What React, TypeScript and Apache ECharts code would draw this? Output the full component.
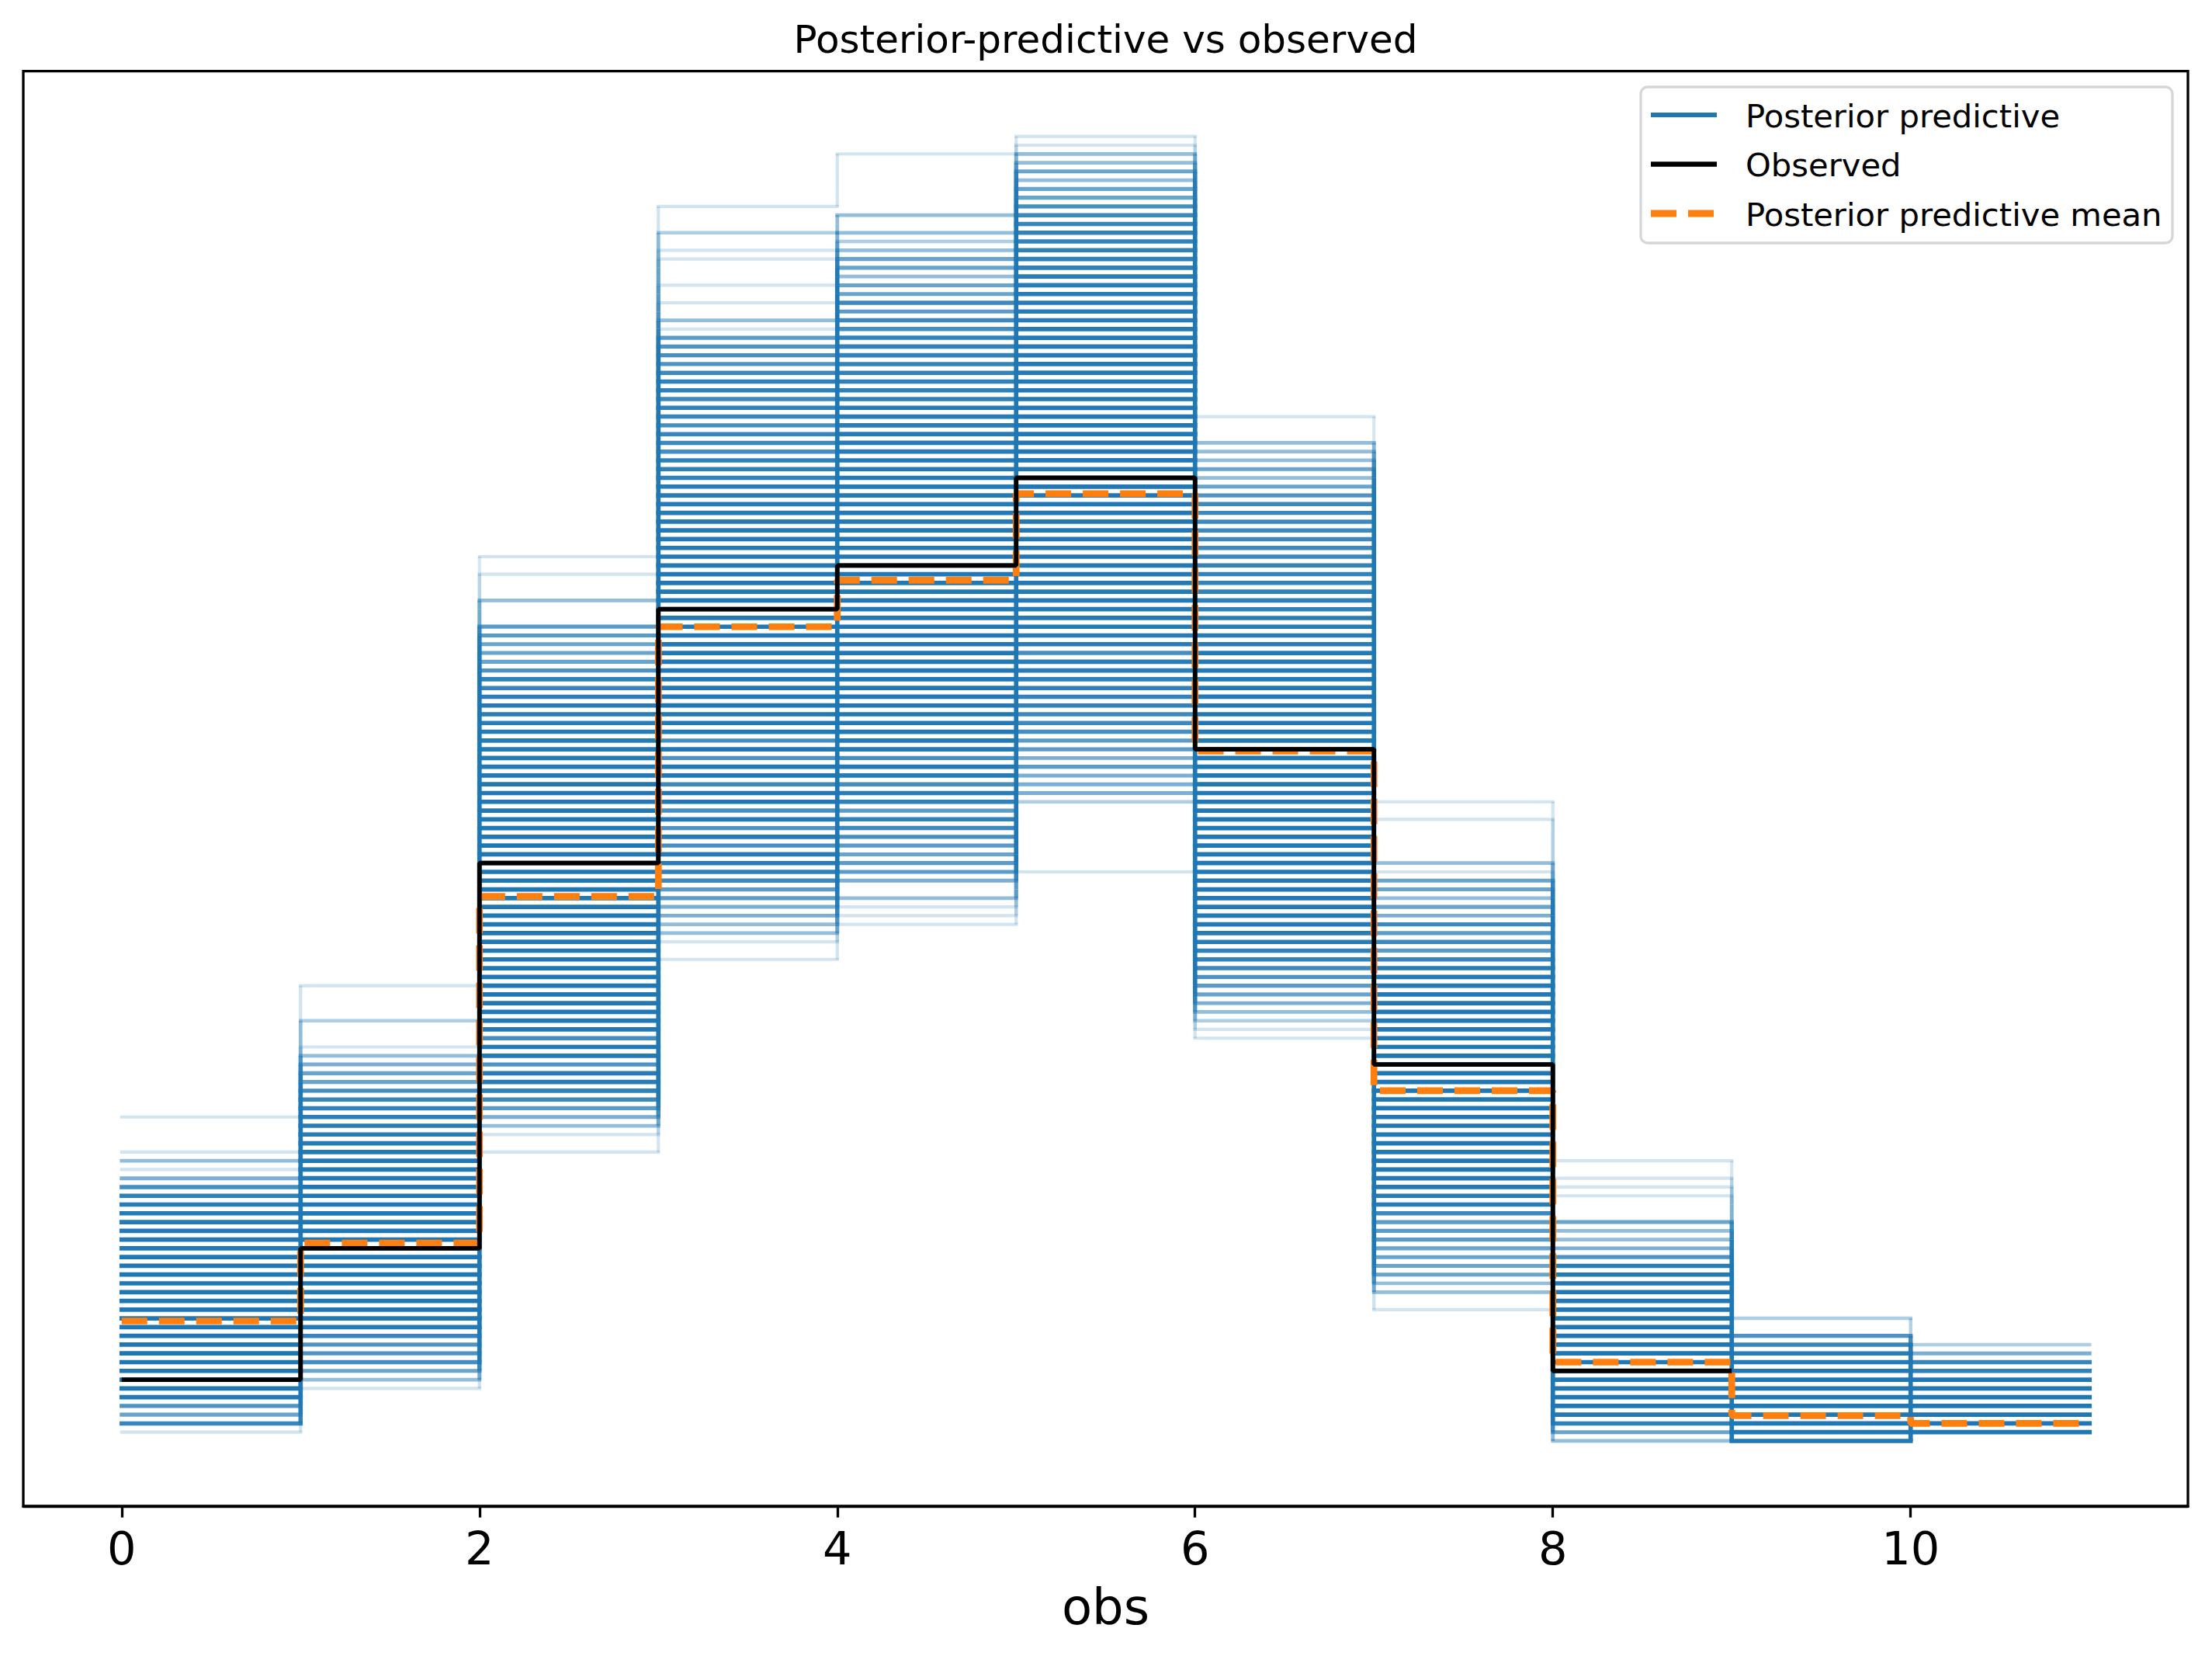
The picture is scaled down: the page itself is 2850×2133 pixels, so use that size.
import React, { useEffect, useRef } from "react";
import * as echarts from "echarts";

// ---------------- data (counts per value bin, N = 530 observations) ----------------
const binValues = [0, 1, 2, 3, 4, 5, 6, 7, 8, 9, 10];
const observedCounts = [7, 22, 66, 95, 100, 110, 79, 43, 8];
const ppMeanCounts = [13.7, 22.6, 62.2, 93.0, 98.3, 108.2, 78.8, 40.0, 9.0, 2.9, 2.0];
const xTickValues = [0, 2, 4, 6, 8, 10];

// lowest count level seen among posterior-predictive draws in each bin
const binLowestLevel = [1, 6, 33, 55, 59, 65, 46, 15, 0, 0, 1];

// number of posterior-predictive draws landing on each count level (from lowest level upward)
const ppBin0 = [1, 10, 5, 7, 20, 30, 40, 50, 55, 58, 60, 60, 58, 55, 52, 48, 44, 40, 36, 32, 28, 25, 22, 20, 18, 16, 14, 12, 8, 4, 1, 3, 1, 0, 0, 0, 1];
const ppBin1 = [1, 3, 5, 8, 7, 7, 10, 16, 22, 28, 34, 40, 44, 48, 50, 50, 50, 48, 46, 44, 40, 36, 33, 30, 27, 24, 21, 18, 15, 14, 14, 13, 11, 10, 8, 5, 5, 4, 3, 1, 0, 0, 2, 0, 0, 0, 1];
const ppBin2 = [1, 0, 1, 3, 4, 6, 9, 12, 15, 15, 7, 18, 20, 8, 24, 24, 27, 27, 30, 30, 30, 33, 33, 33, 33, 33, 33, 33, 33, 33, 33, 32, 32, 30, 30, 28, 27, 27, 25, 24, 22, 21, 21, 19, 18, 18, 16, 15, 15, 14, 14, 15, 13, 10, 12, 7, 5, 5, 5, 6, 6, 0, 0, 3, 0, 0, 1, 0, 1];
const ppBin3 = [1, 0, 1, 3, 3, 4, 4, 6, 6, 9, 12, 14, 15, 8, 16, 7, 18, 8, 21, 21, 9, 22, 24, 7, 24, 8, 25, 25, 25, 25, 25, 25, 25, 25, 25, 24, 24, 24, 24, 23, 23, 23, 22, 21, 21, 20, 20, 18, 18, 17, 17, 15, 15, 14, 14, 12, 12, 12, 8, 9, 10, 8, 10, 11, 9, 12, 12, 9, 7, 8, 7, 6, 1, 3, 0, 1, 0, 1, 0, 0, 1, 1, 0, 2, 0, 0, 1];
const ppBin4 = [1, 1, 1, 3, 0, 4, 6, 6, 5, 6, 8, 9, 11, 6, 12, 14, 8, 15, 17, 8, 18, 18, 20, 20, 21, 21, 21, 22, 22, 22, 22, 22, 22, 22, 22, 22, 22, 22, 22, 22, 22, 21, 21, 21, 21, 20, 20, 20, 18, 18, 18, 17, 17, 17, 15, 15, 15, 14, 14, 14, 12, 12, 12, 11, 11, 11, 11, 11, 8, 9, 6, 9, 5, 5, 3, 5, 5, 3, 2, 3, 0, 3, 0, 0, 0, 0, 0, 0, 1];
const ppBin5 = [1, 0, 0, 0, 0, 0, 0, 0, 2, 4, 4, 4, 6, 4, 6, 6, 8, 9, 9, 11, 11, 12, 12, 14, 14, 8, 15, 15, 17, 17, 18, 18, 18, 20, 20, 20, 21, 21, 21, 21, 22, 22, 22, 22, 22, 22, 22, 22, 22, 22, 21, 21, 21, 21, 20, 20, 20, 18, 18, 18, 17, 17, 17, 15, 15, 15, 14, 14, 14, 12, 12, 12, 11, 11, 10, 9, 8, 5, 5, 3, 5, 3, 3, 1, 1];
const ppBin6 = [1, 1, 2, 3, 4, 5, 6, 7, 9, 11, 12, 14, 15, 17, 18, 20, 21, 22, 22, 24, 24, 25, 25, 25, 25, 25, 25, 25, 25, 25, 25, 25, 24, 24, 24, 22, 22, 21, 21, 20, 20, 18, 18, 17, 17, 15, 15, 14, 14, 12, 12, 12, 11, 11, 11, 9, 9, 9, 9, 9, 9, 9, 7, 5, 3, 5, 3, 3, 3, 0, 0, 1];
const ppBin7 = [1, 0, 3, 3, 5, 5, 5, 5, 6, 6, 6, 9, 14, 15, 18, 20, 21, 23, 24, 26, 27, 28, 28, 30, 30, 30, 30, 30, 30, 28, 28, 27, 26, 24, 23, 21, 20, 18, 17, 15, 10, 6, 9, 6, 9, 4, 5, 3, 5, 5, 1, 3, 0, 0, 0, 0, 1, 0, 1];
const ppBin8 = [3, 5, 12, 20, 32, 44, 52, 58, 60, 60, 58, 52, 46, 40, 35, 30, 26, 23, 20, 17, 14, 7, 4, 3, 3, 5, 0, 0, 1, 1, 1, 0, 1];
const ppBin9 = [40, 80, 100, 100, 90, 70, 52, 36, 24, 16, 14, 10, 7, 0, 2];
const ppBin10 = [90, 110, 105, 90, 65, 45, 28, 12, 10, 4, 2];
const ppLevelWeights = [ppBin0, ppBin1, ppBin2, ppBin3, ppBin4, ppBin5, ppBin6, ppBin7, ppBin8, ppBin9, ppBin10];

// ---------------- styling ----------------
const BLUE = "#1f77b4";
const ORANGE = "#ff7f0e";
const FONT = "DejaVu Sans";
const SINGLE_ALPHA = 0.2;
const BASE_LW = 4.2;
const STACK_LW = 1.5; // extra apparent width once many anti-aliased draws overlap

const alphaFor = (n: number) => 1 - Math.pow(1 - SINGLE_ALPHA, n);

// horizontal pieces of the posterior-predictive step lines
const horizontalSegs: number[][] = [];
ppLevelWeights.forEach((w, k) => {
  w.forEach((n, i) => {
    if (n > 0) {
      const lvl = binLowestLevel[k] + i;
      horizontalSegs.push([binValues[k], lvl, binValues[k] + 1, lvl, alphaFor(n)]);
    }
  });
});

// vertical pieces at bin edges (draws coupled by rank between neighbouring bins)
const weightSums = ppLevelWeights.map((w) => w.reduce((a, b) => a + b, 0));
const cdfAt = (k: number, y: number) => {
  const w = ppLevelWeights[k];
  const lo = binLowestLevel[k];
  let s = 0;
  w.forEach((n, i) => {
    if (lo + i <= y) s += n;
  });
  return s / weightSums[k];
};
const verticalSegs: number[][] = [];
for (let k = 1; k < ppLevelWeights.length; k++) {
  const loA = binLowestLevel[k - 1];
  const hiA = loA + ppLevelWeights[k - 1].length - 1;
  const loB = binLowestLevel[k];
  const hiB = loB + ppLevelWeights[k].length - 1;
  const lo = Math.min(loA, loB);
  const hi = Math.max(hiA, hiB);
  const S = (weightSums[k - 1] + weightSums[k]) / 2;
  for (let y = lo; y < hi; y++) {
    const n = S * Math.abs(cdfAt(k - 1, y) - cdfAt(k, y));
    if (n > 0.05) verticalSegs.push([binValues[k], y, binValues[k], y + 1, alphaFor(Math.min(n, 60))]);
  }
}

const stepPoints = (vals: number[]) =>
  vals.map((v, i) => [binValues[i], v]).concat([[binValues[vals.length - 1] + 1, vals[vals.length - 1]]]);

const segRenderer = (cap: string) => (params: any, api: any) => {
  const p1 = api.coord([api.value(0), api.value(1)]);
  const p2 = api.coord([api.value(2), api.value(3)]);
  const a = api.value(4);
  return {
    type: "line",
    shape: { x1: p1[0], y1: p1[1], x2: p2[0], y2: p2[1] },
    style: {
      stroke: BLUE,
      lineWidth: BASE_LW + (STACK_LW * Math.max(0, a - SINGLE_ALPHA)) / (1 - SINGLE_ALPHA),
      opacity: a,
      lineCap: cap,
    },
  };
};

// ---------------- layout (px) ----------------
const W = 2850;
const H = 2133;
const GRID = { left: 30, right: 31, top: 91.7, bottom: 193 };
const LEG = { x: 2114, y: 112, w: 685, h: 201 };
const legendRows = [
  { label: "Posterior predictive", color: BLUE, width: 6, dash: null as number[] | null, y: 148 },
  { label: "Observed", color: "#000000", width: 6.5, dash: null as number[] | null, y: 211.5 },
  { label: "Posterior predictive mean", color: ORANGE, width: 9, dash: [33, 15], y: 275 },
];

export default function App() {
  const ref = useRef<HTMLDivElement>(null);
  useEffect(() => {
    document.body.style.margin = "0";
    const chart = echarts.init(ref.current as HTMLDivElement, null, { renderer: "svg" });
    const legendGraphics: any[] = [
      {
        type: "rect",
        shape: { x: LEG.x, y: LEG.y, width: LEG.w, height: LEG.h, r: 9 },
        style: { fill: "rgba(255,255,255,0.8)", stroke: "#d6d6d6", lineWidth: 3.3 },
        z: 100,
      },
    ];
    legendRows.forEach((r) => {
      legendGraphics.push({
        type: "line",
        shape: { x1: 2127, y1: r.y, x2: 2212, y2: r.y },
        style: { stroke: r.color, lineWidth: r.width, lineDash: r.dash || undefined, lineCap: "butt" },
        z: 101,
      });
      legendGraphics.push({
        type: "text",
        x: 2249,
        y: r.y + 1,
        style: {
          text: r.label,
          fill: "#000",
          font: `41.7px "${FONT}"`,
          textAlign: "left",
          textVerticalAlign: "middle",
          verticalAlign: "middle",
        },
        z: 101,
      });
    });

    chart.setOption({
      animation: false,
      backgroundColor: "#ffffff",
      textStyle: { fontFamily: FONT },
      grid: {
        left: GRID.left,
        right: GRID.right,
        top: GRID.top,
        bottom: GRID.bottom,
        show: true,
        borderColor: "#000",
        borderWidth: 3.3,
        backgroundColor: "transparent",
      },
      xAxis: {
        type: "value",
        min: -0.55,
        max: 11.55,
        name: "obs",
        nameLocation: "middle",
        nameGap: 98,
        nameTextStyle: { fontSize: 64, color: "#000", fontFamily: FONT },
        axisLine: { show: true, onZero: false, lineStyle: { color: "#000", width: 3.3 } },
        axisTick: { show: true, customValues: xTickValues, length: 14.6, inside: false, lineStyle: { color: "#000", width: 3.3 } },
        axisLabel: { show: true, customValues: xTickValues, fontSize: 59, color: "#000", margin: 25, fontFamily: FONT },
        splitLine: { show: false },
      },
      yAxis: {
        type: "value",
        min: -7.45,
        max: 156.45,
        axisLine: { show: false },
        axisTick: { show: false },
        axisLabel: { show: false },
        splitLine: { show: false },
      },
      graphic: [
        {
          type: "text",
          x: (GRID.left + (W - GRID.right)) / 2,
          y: 51,
          style: {
            text: "Posterior-predictive vs observed",
            fill: "#000",
            font: `50px "${FONT}"`,
            textAlign: "center",
            textVerticalAlign: "middle",
            verticalAlign: "middle",
          },
        },
        ...legendGraphics,
      ],
      series: [
        {
          type: "custom",
          name: "Posterior predictive",
          renderItem: segRenderer("square"),
          dimensions: ["x1", "y1", "x2", "y2", "a"],
          encode: { x: [0, 2], y: [1, 3] },
          data: horizontalSegs,
          z: 1,
          silent: true,
        },
        {
          type: "custom",
          name: "Posterior predictive edges",
          renderItem: segRenderer("butt"),
          dimensions: ["x1", "y1", "x2", "y2", "a"],
          encode: { x: [0, 2], y: [1, 3] },
          data: verticalSegs,
          z: 1,
          silent: true,
        },
        {
          type: "line",
          name: "Posterior predictive mean",
          data: stepPoints(ppMeanCounts),
          step: "end",
          symbol: "none",
          lineStyle: { color: ORANGE, width: 8.7, type: [33, 15], cap: "butt" },
          z: 3,
          silent: true,
        },
        {
          type: "line",
          name: "Observed",
          data: stepPoints(observedCounts),
          step: "end",
          symbol: "none",
          lineStyle: { color: "#000", width: 5.8, type: "solid" },
          z: 4,
          silent: true,
        },
      ],
    });
    return () => chart.dispose();
  }, []);
  return <div ref={ref} style={{ width: W, height: H }} />;
}
